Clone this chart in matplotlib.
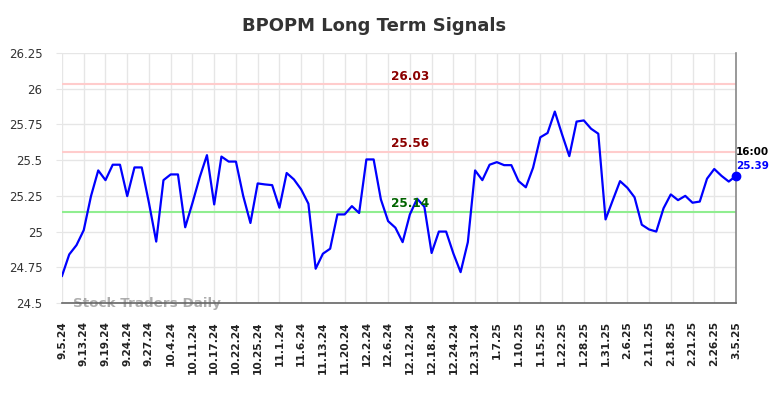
import matplotlib
matplotlib.use("Agg")
import matplotlib.pyplot as plt
import numpy as np

# ---- data ----
tick_labels = ["9.5.24", "9.13.24", "9.19.24", "9.24.24", "9.27.24", "10.4.24", "10.11.24",
               "10.17.24", "10.22.24", "10.25.24", "11.1.24", "11.6.24", "11.13.24", "11.20.24",
               "12.2.24", "12.6.24", "12.12.24", "12.18.24", "12.24.24", "12.31.24", "1.7.25",
               "1.10.25", "1.15.25", "1.22.25", "1.28.25", "1.31.25", "2.6.25", "2.11.25",
               "2.18.25", "2.21.25", "2.26.25", "3.5.25"]

prices = [24.69, 24.84, 24.905, 25.01, 25.248, 25.428, 25.36, 25.468, 25.468, 25.248,
          25.449, 25.449, 25.20, 24.93, 25.36, 25.40, 25.40, 25.03, 25.20, 25.38,
          25.535, 25.19, 25.525, 25.49, 25.49, 25.25, 25.06, 25.337, 25.33, 25.325,
          25.167, 25.41, 25.365, 25.295, 25.195, 24.74, 24.845, 24.88, 25.12, 25.12,
          25.178, 25.13, 25.505, 25.505, 25.225, 25.073, 25.027, 24.926, 25.12, 25.23,
          25.174, 24.85, 25.0, 25.0, 24.847, 24.716, 24.926, 25.428, 25.36, 25.468,
          25.486, 25.465, 25.465, 25.353, 25.31, 25.447, 25.66, 25.69, 25.84, 25.68,
          25.528, 25.77, 25.778, 25.72, 25.685, 25.085, 25.22, 25.353, 25.307, 25.24,
          25.048, 25.015, 25.0, 25.163, 25.26, 25.22, 25.25, 25.202, 25.21, 25.37,
          25.438, 25.39, 25.35, 25.39]

resistance_levels = [26.03, 25.56]
support_levels = [25.14]
last_time = "16:00"
last_value = 25.39
tick_step = 3

# ---- figure ----
fig = plt.figure(figsize=(7.84, 3.98), dpi=100)
ax = fig.add_axes([62/784, 1 - 303/398, (736-62)/784, (303-53)/398])

x = np.arange(len(prices))
ax.plot(x, prices, color="#0000ff", lw=1.6, zorder=4)
ax.plot([x[-1]], [prices[-1]], "o", color="#0000ff", ms=6, zorder=5, clip_on=False)

for lv in resistance_levels:
    ax.axhline(lv, color="#ffcccc", lw=1.5, zorder=2)
    ax.text(48, lv + 0.012, f"{lv:.2f}", color="#8b0000", fontsize=8.7,
            fontweight="bold", ha="center", va="bottom", zorder=6)
for lv in support_levels:
    ax.axhline(lv, color="#90ee90", lw=1.5, zorder=2)
    ax.text(48, lv + 0.012, f"{lv:.2f}", color="#006400", fontsize=8.7,
            fontweight="bold", ha="center", va="bottom", zorder=6)

ax.annotate(last_time, (x[-1], prices[-1]), xytext=(0, 13.5), textcoords="offset points",
            ha="left", va="bottom", fontsize=7.5, fontweight="bold", color="black",
            annotation_clip=False)
ax.annotate(f"{last_value:.2f}", (x[-1], prices[-1]), xytext=(0, 3.8), textcoords="offset points",
            ha="left", va="bottom", fontsize=7.5, fontweight="bold", color="#0000ff",
            annotation_clip=False)

ax.text(1.5, 24.5, "Stock Traders Daily", color="#999999", alpha=0.8, fontsize=9.7,
        fontweight="bold", ha="left", va="center", zorder=1)

ax.set_xlim(0, len(prices) - 1)
ax.set_ylim(24.5, 26.25)
yt = [24.5, 24.75, 25.0, 25.25, 25.5, 25.75, 26.0, 26.25]
ax.set_yticks(yt)
ax.set_yticklabels([("%g" % v) for v in yt])
ax.set_xticks(np.arange(0, len(prices), tick_step))
ax.set_xticklabels(tick_labels, rotation=90, fontsize=7.7, fontweight="bold", color="#222222")
ax.tick_params(axis="x", length=0, pad=13)
ax.tick_params(axis="y", length=4, color="#e6e6e6", labelsize=8.5, labelcolor="#333333", pad=10)

ax.grid(True, color="#e6e6e6", lw=1, zorder=0)
ax.set_axisbelow(True)
for s in ["top", "left"]:
    ax.spines[s].set_visible(False)
ax.spines["bottom"].set_color("#666666")
ax.spines["bottom"].set_linewidth(1.2)
ax.spines["right"].set_color("#888888")
ax.spines["right"].set_linewidth(1.2)

fig.text(374/784, 1 - 26/398, "BPOPM Long Term Signals", ha="center", va="center",
         fontsize=13, fontweight="bold", color="#333333")

fig.savefig("out.png", dpi=100)
